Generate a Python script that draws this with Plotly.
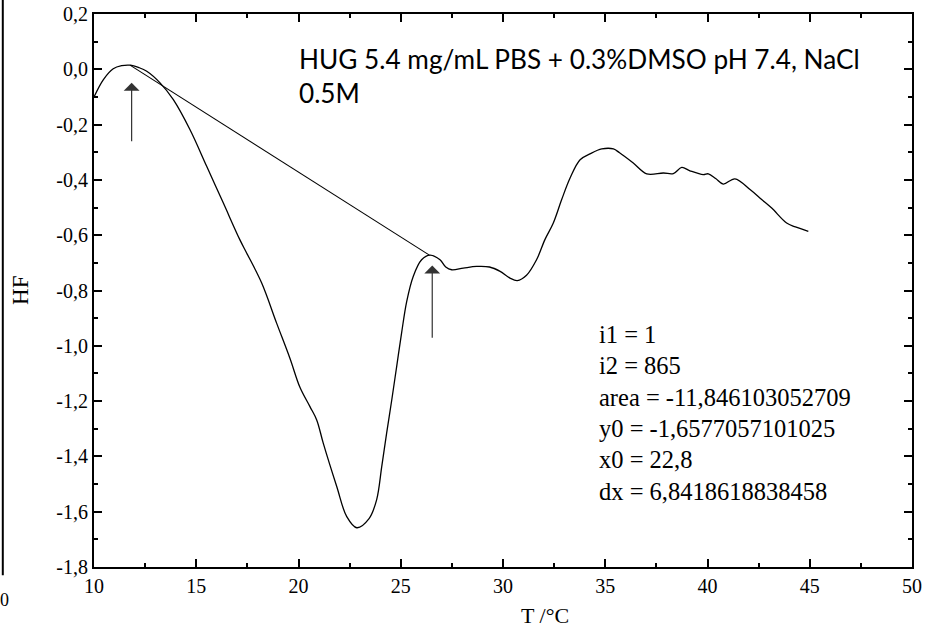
import plotly.graph_objects as go

# DSC curve (T in °C, HF)
T = [10.0, 10.46, 10.94, 11.35, 11.76, 12.2, 12.58, 13.23, 13.88, 14.69, 15.51, 16.32,
     17.13, 17.47, 18.2, 18.93, 19.58, 20.07, 20.56, 20.89, 21.21, 21.87, 22.36,
     22.85, 23.45, 23.82, 24.07, 24.31, 24.56, 24.80, 25.04, 25.29, 25.61, 26.02,
     26.43, 26.92, 27.2, 27.49, 28.06, 28.71, 29.34, 29.86, 30.34, 30.7, 31.15, 31.64,
     32.05, 32.46, 32.87, 33.28, 33.77, 34.25, 34.83, 35.4, 35.7, 36.37, 37.03, 37.84,
     38.33, 38.74, 39.14, 39.79, 40.04, 40.4, 40.77, 41.34, 42.08, 42.65, 43.14, 43.87,
     44.3, 44.93]
HF = [-0.100, -0.037, 0.002, 0.013, 0.015, 0.006, -0.007, -0.049, -0.110, -0.218, -0.351, -0.483,
      -0.616, -0.665, -0.773, -0.918, -1.045, -1.150, -1.220, -1.268, -1.352, -1.509, -1.618,
      -1.658, -1.625, -1.557, -1.437, -1.316, -1.196, -1.075, -0.954, -0.840, -0.749, -0.689,
      -0.672, -0.689, -0.715, -0.725, -0.719, -0.713, -0.715, -0.731, -0.755, -0.764, -0.745, -0.689,
      -0.616, -0.556, -0.471, -0.393, -0.327, -0.306, -0.288, -0.288, -0.302, -0.339, -0.378, -0.375,
      -0.377, -0.355, -0.367, -0.381, -0.378, -0.395, -0.415, -0.396, -0.435, -0.471, -0.502, -0.556,
      -0.570, -0.586]

# integration baseline
base_T = [11.76, 26.4]
base_HF = [0.015, -0.672]

# arrows (x, head y, tail y)
arrow_x = [11.84, 26.54]
arrow_head = [-0.049, -0.710]
arrow_tail = [-0.266, -0.976]

x_ticks = [10, 15, 20, 25, 30, 35, 40, 45, 50]
y_ticks = [0.2, 0.0, -0.2, -0.4, -0.6, -0.8, -1.0, -1.2, -1.4, -1.6, -1.8]
y_ticktext = ["0,2", "0,0", "-0,2", "-0,4", "-0,6", "-0,8", "-1,0", "-1,2", "-1,4", "-1,6", "-1,8"]

title_text = "HUG 5.4 mg/mL PBS + 0.3%DMSO pH 7.4, NaCl<br>0.5M"
stats_lines = ["i1 = 1", "i2 = 865", "area = -11,846103052709",
               "y0 = -1,6577057101025", "x0 = 22,8", "dx = 6,8418618838458"]

fig = go.Figure()
fig.add_trace(go.Scatter(x=T, y=HF, mode="lines",
                         line=dict(color="black", width=1.3, shape="spline", smoothing=1.0),
                         showlegend=False, hoverinfo="skip"))
fig.add_trace(go.Scatter(x=base_T, y=base_HF, mode="lines",
                         line=dict(color="black", width=1.1),
                         showlegend=False, hoverinfo="skip"))

annotations = []
for ax_, h, t in zip(arrow_x, arrow_head, arrow_tail):
    annotations.append(dict(x=ax_, y=h, ax=ax_, ay=t, xref="x", yref="y", axref="x", ayref="y",
                            text="", showarrow=True, arrowhead=1, arrowsize=2.2,
                            arrowwidth=1.2, arrowcolor="#333333"))

annotations.append(dict(x=19.93, y=-0.024, xref="x", yref="y", text=title_text,
                        showarrow=False, xanchor="left", yanchor="middle", align="left",
                        font=dict(family="Lato", size=26.2, color="black")))

y0 = -0.958
dy = 0.1137
for i, line in enumerate(stats_lines):
    annotations.append(dict(x=34.6, y=y0 - i * dy, xref="x", yref="y", text=line,
                            showarrow=False, xanchor="left", yanchor="middle",
                            font=dict(family="Liberation Serif", size=24.5, color="black")))

# axis titles
annotations.append(dict(x=0.551, y=-0.087, xref="paper", yref="paper", text="T /°C",
                        showarrow=False, xanchor="center", yanchor="middle",
                        font=dict(family="Liberation Serif", size=22, color="black")))
annotations.append(dict(x=-0.090, y=0.5, xref="paper", yref="paper", text="HF",
                        showarrow=False, textangle=-90, xanchor="center", yanchor="middle",
                        font=dict(family="Liberation Serif", size=23, color="black")))
# stray "0" from neighbouring panel
annotations.append(dict(x=-0.110, y=-0.06, xref="paper", yref="paper", text="0",
                        showarrow=False, xanchor="center", yanchor="middle",
                        font=dict(family="Liberation Serif", size=18, color="black")))

fig.update_layout(
    width=937, height=638,
    margin=dict(l=94, r=25, t=14, b=71, autoexpand=False),
    paper_bgcolor="white", plot_bgcolor="white",
    annotations=annotations,
    shapes=[dict(type="line", xref="paper", yref="paper", x0=-0.1115, x1=-0.1115,
                 y0=1.03, y1=-0.015, line=dict(color="black", width=2))],
    font=dict(family="Liberation Serif", color="black"),
)
axis_common = dict(ticks="inside", ticklen=8, tickwidth=1.5, automargin=False,
                   showline=True, linecolor="black", linewidth=2, mirror="allticks",
                   showgrid=False, zeroline=False, tickcolor="black",
                   tickfont=dict(family="Liberation Serif", size=20, color="black"))
fig.update_xaxes(range=[10, 50], tickvals=x_ticks, **axis_common,
                 minor=dict(ticks="inside", dtick=2.5, tick0=10, ticklen=4, tickwidth=1.5,
                            tickcolor="black", showgrid=False))
fig.update_yaxes(range=[-1.8, 0.2], tickvals=y_ticks, ticktext=y_ticktext, **axis_common,
                 minor=dict(ticks="inside", dtick=0.1, tick0=0, ticklen=4, tickwidth=1.5,
                            tickcolor="black", showgrid=False))

fig.write_html("out.html", config={"displayModeBar": False},
               post_script="document.body.style.margin='0';")
